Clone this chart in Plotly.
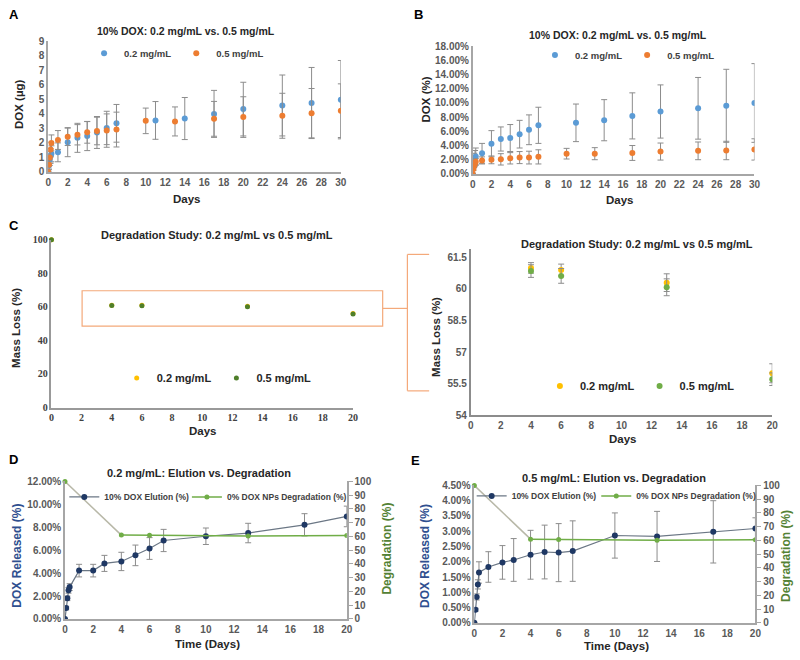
import plotly.graph_objects as go

SANS = "Liberation Sans"
SERIF = "Liberation Serif"

# ---- Panel A / B : 10% DOX release, 0.2 vs 0.5 mg/mL ----
days_02 = [0, 0.083, 0.167, 0.25, 0.33, 1, 2, 3, 4, 5, 6, 7, 11, 14, 17, 20, 24, 27, 30]
days_05 = [0, 0.083, 0.167, 0.25, 0.33, 1, 2, 3, 4, 5, 6, 7, 10, 13, 17, 20, 24, 27, 30]

dox_ug_02 = [0, 0.45, 0.85, 1.1, 1.25, 1.35, 2.05, 2.35, 2.47, 2.72, 3.03, 3.35, 3.55, 3.68, 4.0, 4.33, 4.58, 4.75, 4.98]
dox_ug_02_err = [0, 0.3, 0.4, 0.5, 0.55, 0.65, 1.0, 1.0, 1.0, 1.1, 1.15, 1.3, 1.3, 1.45, 1.62, 1.85, 2.1, 2.45, 2.7]
dox_ug_05 = [0, 0.5, 1.0, 1.55, 2.0, 2.2, 2.42, 2.56, 2.73, 2.82, 2.85, 2.92, 3.52, 3.48, 3.66, 3.78, 3.87, 4.05, 4.22]
dox_ug_05_err = [0, 0.3, 0.4, 0.5, 0.55, 0.65, 0.6, 0.7, 0.75, 0.95, 1.15, 1.2, 0.88, 1.0, 1.2, 1.4, 1.55, 1.7, 1.85]

dox_pct_02 = [0, 1.4, 2.0, 2.3, 2.45, 2.9, 4.25, 4.92, 5.06, 5.6, 6.22, 6.85, 7.2, 7.57, 8.18, 8.8, 9.25, 9.6, 10.0]
dox_pct_02_err = [0, 0.6, 0.9, 1.0, 1.2, 1.4, 1.85, 1.7, 1.9, 1.95, 2.1, 2.55, 2.65, 2.9, 3.25, 3.75, 4.35, 5.15, 5.55]
dox_pct_05 = [0, 0.7, 1.2, 1.5, 1.7, 1.9, 1.98, 2.05, 2.2, 2.3, 2.3, 2.4, 2.85, 2.85, 2.95, 3.15, 3.25, 3.3, 3.45]
dox_pct_05_err = [0, 0.2, 0.3, 0.4, 0.45, 0.5, 0.55, 0.8, 0.8, 0.85, 0.9, 1.0, 0.75, 0.85, 1.05, 1.2, 1.25, 1.3, 1.5]

# ---- Panel C : degradation (mass loss) ----
deg_days = [0, 4, 6, 13, 20]
mass_02 = [100, 61.0, 60.9, 60.3, 56.0]
mass_02_err = [0, 0.25, 0.28, 0.42, 0.45]
mass_05 = [100, 60.85, 60.62, 60.08, 55.72]
mass_05_err = [0, 0.3, 0.35, 0.4, 0.3]

# ---- Panel D / E : elution vs degradation ----
el_days = [0, 0.083, 0.167, 0.25, 0.33, 1, 2, 2.8, 4, 5, 6, 7, 10, 13, 17, 20]
el_02 = [0, 0.95, 1.8, 2.5, 2.78, 4.22, 4.22, 4.85, 5.02, 5.55, 6.15, 6.85, 7.22, 7.5, 8.22, 8.95]
el_02_err = [0, 0.15, 0.2, 0.25, 0.3, 0.55, 0.55, 0.7, 0.8, 0.9, 0.95, 0.97, 0.72, 0.85, 0.97, 0.9]
el_05 = [0, 0.43, 0.85, 1.26, 1.65, 1.83, 1.98, 2.06, 2.23, 2.32, 2.3, 2.35, 2.86, 2.83, 2.98, 3.09]
el_05_err = [0, 0.05, 0.1, 0.15, 0.35, 0.5, 0.55, 0.7, 0.8, 0.88, 0.95, 0.99, 0.74, 0.82, 1.02, 0.35]
degr_02 = [100, 61.0, 60.9, 60.4, 60.7]
degr_05 = [100, 60.9, 60.7, 60.2, 60.5]

BLUE = "#5b9bd5"
ORANGE = "#ed7d31"
YELLOW = "#ffc000"
GREEN = "#70ad47"
DKGREEN = "#4f7f2a"
NAVY = "#1f3864"
ERR = "#8c8c8c"
W, H = 800, 660


def px(x):
    return x / W


def py(y):
    return 1 - y / H


def errbar(a):
    return dict(type="data", array=a, color=ERR, thickness=1, width=3)


fig = go.Figure()

# A
fig.add_trace(go.Scatter(x=days_02, y=dox_ug_02, mode="markers", name="0.2 mg/mL",
                         marker=dict(color=BLUE, size=6), error_y=errbar(dox_ug_02_err),
                         xaxis="x", yaxis="y", legend="legend"))
fig.add_trace(go.Scatter(x=days_05, y=dox_ug_05, mode="markers", name="0.5 mg/mL",
                         marker=dict(color=ORANGE, size=6), error_y=errbar(dox_ug_05_err),
                         xaxis="x", yaxis="y", legend="legend"))
# B
fig.add_trace(go.Scatter(x=days_02, y=dox_pct_02, mode="markers", name="0.2 mg/mL",
                         marker=dict(color=BLUE, size=6), error_y=errbar(dox_pct_02_err),
                         xaxis="x2", yaxis="y2", legend="legend2"))
fig.add_trace(go.Scatter(x=days_05, y=dox_pct_05, mode="markers", name="0.5 mg/mL",
                         marker=dict(color=ORANGE, size=6), error_y=errbar(dox_pct_05_err),
                         xaxis="x2", yaxis="y2", legend="legend2"))
# C left (full scale)
fig.add_trace(go.Scatter(x=deg_days, y=mass_02, mode="markers", name="0.2 mg/mL",
                         marker=dict(color=YELLOW, size=5), cliponaxis=False,
                         xaxis="x3", yaxis="y3", legend="legend3"))
fig.add_trace(go.Scatter(x=deg_days, y=mass_05, mode="markers", name="0.5 mg/mL",
                         marker=dict(color=DKGREEN, size=5), cliponaxis=False,
                         xaxis="x3", yaxis="y3", legend="legend3"))
# C right (zoomed)
fig.add_trace(go.Scatter(x=deg_days, y=mass_02, mode="markers", name="0.2 mg/mL",
                         marker=dict(color=YELLOW, size=6), error_y=errbar(mass_02_err),
                         xaxis="x4", yaxis="y4", legend="legend4"))
fig.add_trace(go.Scatter(x=deg_days, y=mass_05, mode="markers", name="0.5 mg/mL",
                         marker=dict(color=GREEN, size=6), error_y=errbar(mass_05_err),
                         xaxis="x4", yaxis="y4", legend="legend4"))

# D and E (each legend entry gets its own legend box so it can sit where the original has it)
for el, el_err, degr, xa, yl, yr, lg_el, lg_dg in [
    (el_02, el_02_err, degr_02, "x5", "y5", "y6", "legend5", "legend7"),
    (el_05, el_05_err, degr_05, "x7", "y7", "y8", "legend6", "legend8"),
]:
    fig.add_trace(go.Scatter(x=deg_days[:2], y=degr[:2], mode="lines", showlegend=False,
                             line=dict(color="#b8b8a8", width=1.5), xaxis=xa, yaxis=yr))
    fig.add_trace(go.Scatter(x=el_days, y=el, mode="lines+markers", name="10% DOX Elution (%)",
                             line=dict(color="#6b7785", width=1.2),
                             marker=dict(color=NAVY, size=6), error_y=errbar(el_err),
                             xaxis=xa, yaxis=yl, legend=lg_el))
    fig.add_trace(go.Scatter(x=deg_days[1:], y=degr[1:], mode="lines+markers",
                             name="0% DOX NPs Degradation (%)",
                             line=dict(color=GREEN, width=1.5), marker=dict(color=GREEN, size=5),
                             xaxis=xa, yaxis=yr, legend=lg_dg))
    fig.add_trace(go.Scatter(x=deg_days[:1], y=degr[:1], mode="markers", showlegend=False,
                             marker=dict(color=GREEN, size=5), cliponaxis=False,
                             xaxis=xa, yaxis=yr))

tickf = dict(family=SANS, size=10, color="#595959", weight="bold")
serif_tickf = dict(family=SERIF, size=10, color="#404040", weight="bold")


def axis(x0, x1, rng, anchor, font=tickf, **kw):
    d = dict(domain=[x0, x1], range=rng, anchor=anchor, showgrid=False, zeroline=False,
             showline=True, linecolor="#a6a6a6", linewidth=1.5, ticks="", tickfont=font)
    d.update(kw)
    return d


layout = dict(
    width=W, height=H, margin=dict(l=0, r=0, t=0, b=0),
    paper_bgcolor="white", plot_bgcolor="white",
    font=dict(family=SANS, color="#404040"),
    # A
    xaxis=axis(px(45.7), px(341.7), [0, 30], "y", dtick=2),
    yaxis=axis(py(169), py(36), [0, 9], "x", dtick=1),
    # B
    xaxis2=axis(px(475), px(760), [0, 30], "y2", dtick=2),
    yaxis2=axis(py(171), py(41), [0, 18], "x2", dtick=2, tickformat=".2f", ticksuffix="%"),
    # C left
    xaxis3=axis(px(49), px(354), [0, 20], "y3", font=serif_tickf, dtick=2, linecolor="#999999"),
    yaxis3=axis(py(409), py(238), [0, 100], "x3", font=serif_tickf, dtick=20, linecolor="#999999"),
    # C right
    xaxis4=axis(px(473), px(778), [0, 20], "y4", dtick=2, linecolor="#8c8c8c"),
    yaxis4=axis(py(417), py(247), [54, 61.92], "x4", tickvals=[54, 55.5, 57, 58.5, 60, 61.5],
                linecolor="#8c8c8c"),
    # D
    xaxis5=axis(px(62.7), px(347.7), [0, 20], "y5", dtick=2),
    yaxis5=axis(py(624.3), py(484.3), [0, 12], "x5", dtick=2, tickformat=".2f", ticksuffix="%"),
    yaxis6=axis(0, 1, [0, 100], "x5", dtick=10, overlaying="y5", side="right",
                ticks="outside", ticklen=4, tickcolor="#a6a6a6"),
    # E
    xaxis7=axis(px(476.7), px(761), [0, 20], "y7", dtick=2),
    yaxis7=axis(py(628.3), py(488.3), [0, 4.5], "x7", dtick=0.5, tickformat=".2f", ticksuffix="%"),
    yaxis8=axis(0, 1, [0, 100], "x7", dtick=10, overlaying="y7", side="right",
                ticks="outside", ticklen=4, tickcolor="#a6a6a6"),
)
layout["yaxis6"].pop("domain")
layout["yaxis8"].pop("domain")

lg_small = dict(family=SANS, size=9.5, color="#404040", weight="bold")
lg_big = dict(family=SANS, size=11, color="#262626", weight="bold")
lg_de = dict(family=SANS, size=8.5, color="#404040", weight="bold")
for name, x, y, f in [("legend", 82, 48, lg_small), ("legend2", 538, 50, lg_small),
                      ("legend3", 115, 379, lg_big), ("legend4", 543, 387, lg_big),
                      ("legend5", 62, 500, lg_de), ("legend7", 186, 500, lg_de),
                      ("legend6", 474, 499, lg_de), ("legend8", 600, 499, lg_de)]:
    layout[name] = dict(x=px(x), y=py(y), xanchor="left", yanchor="middle", orientation="h",
                        bgcolor="rgba(0,0,0,0)", font=f, itemclick=False)

fig.update_layout(**layout)


def note(text, x, y, size=11, color="#262626", angle=0, family=SANS, anchor="center"):
    fig.add_annotation(text=text, x=px(x), y=py(y), xref="paper", yref="paper",
                       showarrow=False, textangle=angle, xanchor=anchor, yanchor="middle",
                       font=dict(family=family, size=size, color=color, weight="bold"))


# panel letters
note("A", 4, 9, size=13, color="black", anchor="left")
note("B", 414, 9, size=13, color="black", anchor="left")
note("C", 4, 224, size=13, color="black", anchor="left")
note("D", 4, 462, size=13, color="black", anchor="left")
note("E", 411, 463, size=13, color="black", anchor="left")

# titles
note("10% DOX: 0.2 mg/mL vs. 0.5 mg/mL", 185, 25, size=10.5)
note("10% DOX: 0.2 mg/mL vs. 0.5 mg/mL", 622, 30, size=10.5)
note("Degradation Study: 0.2 mg/mL vs 0.5 mg/mL", 216, 233, size=11)
note("Degradation Study: 0.2 mg/mL vs 0.5 mg/mL", 641, 242, size=11)
note("0.2 mg/mL: Elution vs. Degradation", 198, 476)
note("0.5 mg/mL: Elution vs. Degradation", 618, 481)

# axis titles
note("Days", 186, 197, size=11.5)
note("Days", 624, 198, size=11.5)
note("Days", 202, 433, size=11.5)
note("Days", 627, 441, size=11.5)
note("Time (Days)", 207, 650, size=11.5)
note("Time (Days)", 620, 652, size=11.5)
note("DOX (µg)", 16, 100, size=11.5, angle=-90)
note("DOX (%)", 428, 95, size=11.5, angle=-90)
note("Mass Loss (%)", 13, 328, size=11.5, angle=-90)
note("Mass Loss (%)", 438, 337, size=11.5, angle=-90)
note("DOX Released (%)", 14, 560, size=12, angle=-90, color="#2f4f8f")
note("Degradation (%)", 388, 553, size=12, angle=-90, color="#548235")
note("DOX Released (%)", 427, 560, size=12, angle=-90, color="#2f4f8f")
note("Degradation (%)", 792, 560, size=12, angle=-90, color="#548235")

# zoom box and bracket linking the two degradation plots
box = dict(color="#f4a97a", width=1.2)
fig.add_shape(type="rect", xref="paper", yref="paper", x0=px(80), x1=px(384),
              y0=py(326), y1=py(290), line=box)
fig.add_shape(type="line", xref="paper", yref="paper", x0=px(384), x1=px(409),
              y0=py(308), y1=py(308), line=box)
fig.add_shape(type="line", xref="paper", yref="paper", x0=px(409), x1=px(409),
              y0=py(392), y1=py(253), line=box)
fig.add_shape(type="line", xref="paper", yref="paper", x0=px(409), x1=px(431),
              y0=py(253), y1=py(253), line=box)
fig.add_shape(type="line", xref="paper", yref="paper", x0=px(409), x1=px(431),
              y0=py(392), y1=py(392), line=box)

# drop the default page margin so the 800x660 figure fills the window
fig.write_html("out.html", config={"displayModeBar": False},
               post_script="document.body.style.margin='0';")
